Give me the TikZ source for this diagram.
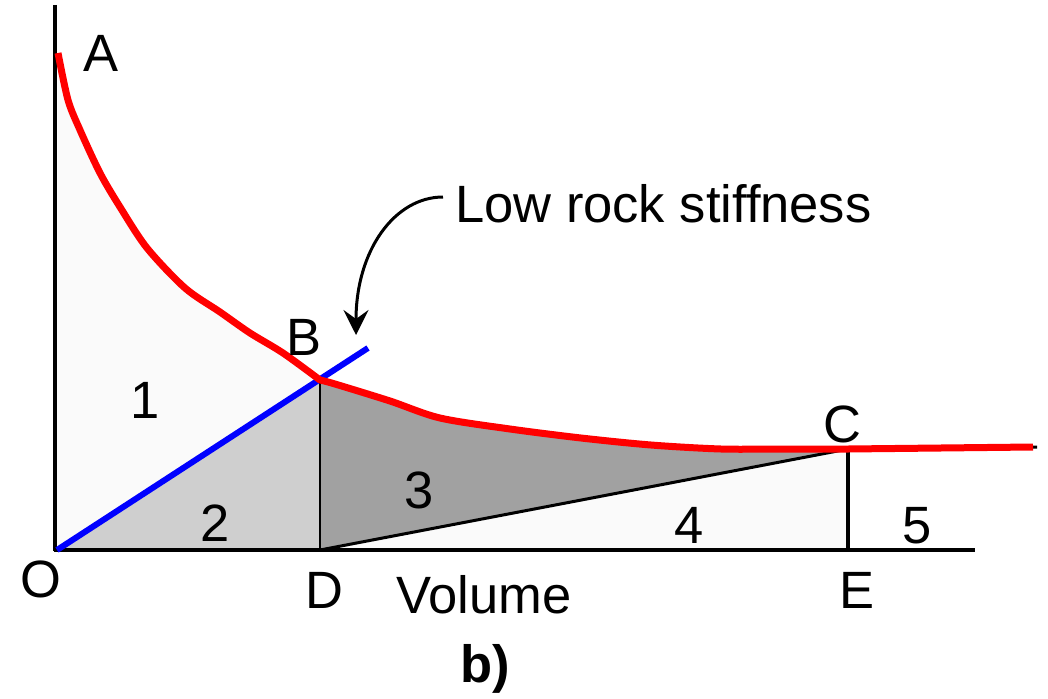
\documentclass[tikz,border=0pt]{standalone}
\usepackage{fontspec}
\setmainfont{Liberation Sans}
\usetikzlibrary{arrows.meta}
\begin{document}
\begin{tikzpicture}[x=1pt,y=-1pt,
  lbl/.style={anchor=base,inner sep=0pt,font=\fontsize{52.5}{60}\selectfont},
  axis/.style={line width=3.5pt,black},
  redc/.style={line width=7pt,red,line join=round},
  bluel/.style={line width=6pt,blue},
  thinb/.style={line width=2.5pt,black}]
\useasboundingbox (0,0) rectangle (1048,698);
\fill[white] (0,0) rectangle (1048,698);
% key points
\coordinate (O) at (57,550);
\coordinate (A) at (58,53);
\coordinate (B) at (320,380);
\coordinate (C) at (848,449);
\coordinate (D) at (320,550);
\coordinate (E) at (848,550);
\coordinate (Bend) at (368,348);
\coordinate (Rend) at (1033,447);
\coordinate (Kend) at (1037,447);
\coordinate (Ytop) at (55,5);
\coordinate (Xend) at (975,550);
% fills
\fill[black!2] (O) -- (A) -- plot[smooth] coordinates {(58,53) (68,100) (80,130) (100,173) (120,207) (147,248) (185,288) (220,312) (250,333) (283,353) (320,380)} -- cycle;
\fill[black!19] (O) -- (B) -- (D) -- cycle;
\fill[black!37] (B) -- plot[smooth] coordinates {(320,380) (335,384) (390,401) (440,418) (510,429) (581,438) (651,445) (721,449) (780,449) (848,449)} -- (D) -- cycle;
\fill[black!2] (D) -- (C) -- (E) -- cycle;
% axes
\draw[axis] (Ytop) -- (55,551);
\draw[axis] (54,550) -- (Xend);
\draw[thinb] (B) -- (D);
\draw[line width=3pt] (D) -- (C);
\draw[line width=4pt] (C) -- (E);
\draw[line width=3pt] (C) -- (Kend);
% blue line
\draw[bluel] (O) -- (Bend);
% red curve
\draw[redc] plot[smooth] coordinates {(58,53) (68,100) (80,130) (100,173) (120,207) (147,248) (185,288) (220,312) (250,333) (283,353) (320,380)}
  -- plot[smooth] coordinates {(320,380) (335,384) (390,401) (440,418) (510,429) (581,438) (651,445) (721,449) (780,449) (848,449)} -- (Rend);
% labels
\node[lbl] (lA) at (101,72) {A};
\node[lbl] (lB) at (304,355) {B};
\node[lbl] (lC) at (842,442) {C};
\node[lbl] (lO) at (41,597) {O};
\node[lbl] (lD) at (324,608) {D};
\node[lbl] (lE) at (857,608) {E};
\node[lbl] (n1) at (145,418) {1};
\node[lbl] (n2) at (215,541) {2};
\node[lbl] (n3) at (419,508) {3};
\node[lbl] (n4) at (689,543) {4};
\node[lbl] (n5) at (917,543) {5};
\node[lbl] (vol) at (484,613) {Volume};
\node[lbl,font=\fontsize{52.5}{60}\selectfont\bfseries] (bl) at (485,682) {b)};
\node[lbl,anchor=base west] (low) at (455,222) {Low rock stiffness};
\coordinate (arrS) at (443,197);
\coordinate (arrT) at (356,335);
\draw[line width=3pt,-{Stealth[length=25pt,width=25pt,inset=9pt]}] (arrS) .. controls (395,197) and (356,250) .. (arrT);
\end{tikzpicture}
\end{document}
